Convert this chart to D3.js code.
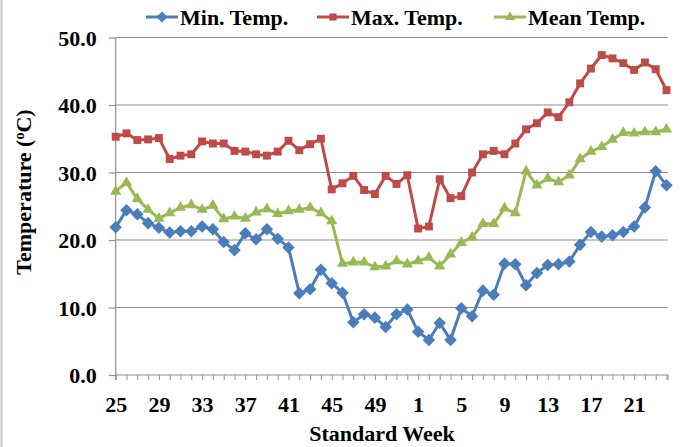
<!DOCTYPE html>
<html>
<head>
<meta charset="utf-8">
<script src="https://cdn.jsdelivr.net/npm/d3@7/dist/d3.min.js"></script>
<style>
  html, body { margin: 0; padding: 0; background: #fff; }
  svg { display: block; }
  text { font-family: "Liberation Serif", "Times New Roman", serif; font-weight: bold; fill: #000; }
</style>
</head>
<body>
<svg id="chart" width="681" height="447"></svg>
<script>
// Standard meteorological weeks (25 to 52, then 1 to 24)
const weeks = [25,26,27,28,29,30,31,32,33,34,35,36,37,38,39,40,41,42,43,44,45,46,47,48,49,50,51,52,
               1,2,3,4,5,6,7,8,9,10,11,12,13,14,15,16,17,18,19,20,21,22,23,24];
const weekLabels = [25,29,33,37,41,45,49,1,5,9,13,17,21];

// Weekly temperatures (°C)
const minTemp = [21.9,24.4,23.8,22.5,21.8,21.1,21.3,21.3,22.0,21.6,19.7,18.5,21.0,20.1,21.6,20.2,18.9,
                 12.1,12.7,15.6,13.6,12.2,7.8,9.0,8.5,7.1,9.0,9.7,6.4,5.2,7.7,5.2,9.9,8.7,
                 12.5,11.9,16.5,16.4,13.3,15.1,16.3,16.4,16.8,19.3,21.2,20.5,20.7,21.2,22.0,24.8,30.2,28.1];
const maxTemp = [35.3,35.8,34.8,34.9,35.1,32.0,32.5,32.7,34.6,34.3,34.3,33.2,33.1,32.7,32.5,33.1,34.7,
                 33.3,34.2,35.0,27.5,28.4,29.5,27.4,26.8,29.5,28.3,29.6,21.7,22.0,29.0,26.2,26.5,30.0,
                 32.7,33.2,32.7,34.3,36.4,37.3,38.9,38.2,40.4,43.2,45.4,47.4,46.9,46.2,45.2,46.3,45.3,42.2];
const meanTemp = [27.2,28.5,26.1,24.5,23.2,24.0,24.8,25.2,24.5,25.1,23.1,23.5,23.2,24.1,24.6,23.9,24.3,
                  24.5,24.8,24.0,22.8,16.5,16.7,16.7,16.0,16.1,16.9,16.4,16.9,17.4,16.1,17.9,19.6,20.4,
                  22.4,22.4,24.7,24.0,30.2,28.1,29.1,28.6,29.6,32.0,33.1,33.8,34.9,35.9,35.8,36.0,36.0,36.4];
const yTicks = [0,10,20,30,40,50];

const series = [
  { name: "Min. Temp.",  values: minTemp,  color: "#4A7EBB", marker: d3.symbolDiamond2, size: 100 },
  { name: "Max. Temp.",  values: maxTemp,  color: "#BE4B48", marker: d3.symbolSquare2,  size: 80 },
  { name: "Mean Temp.",  values: meanTemp, color: "#98B954", marker: d3.symbolTriangle2, size: 90 }
];

const svg = d3.select("#chart");
const plotL = 115.7, plotR = 666.5, plotT = 37.5, plotB = 375;
const axisEnd = 668;
const gridColor = "#8e8e8e";
const fontSize = "22px";

const x = d3.scalePoint().domain(d3.range(weeks.length)).range([plotL, plotR]);
const y = d3.scaleLinear().domain([0, 50]).range([plotB, plotT]);

// faint edge line on the left of the frame
svg.append("line").attr("x1", 1.5).attr("x2", 1.5).attr("y1", 0).attr("y2", 447)
  .attr("stroke", "#c4c4c4").attr("stroke-width", 2);

// horizontal gridlines
svg.append("g").selectAll("line").data(yTicks.filter(t => t > 0)).join("line")
  .attr("x1", plotL).attr("x2", axisEnd)
  .attr("y1", d => y(d)).attr("y2", d => y(d))
  .attr("stroke", gridColor).attr("stroke-width", 1.2);

// y axis
const yAxis = svg.append("g").attr("transform", `translate(${plotL},0)`)
  .call(d3.axisLeft(y).tickValues(yTicks).tickFormat(d3.format(".1f")).tickSize(7).tickPadding(12));
yAxis.select(".domain").attr("stroke", gridColor).attr("stroke-width", 1.2)
  .attr("d", `M0,${plotT}V${plotB + 5}`);
yAxis.selectAll(".tick line").attr("stroke", gridColor).attr("stroke-width", 1.2);
yAxis.selectAll(".tick text").style("font-size", fontSize).attr("dy", "0.35em");

// x axis: tick at every week, label every fourth
const xAxis = svg.append("g").attr("transform", `translate(0,${plotB})`)
  .call(d3.axisBottom(x).tickSize(5).tickPadding(16)
    .tickFormat(i => (weekLabels.includes(weeks[i]) ? weeks[i] : "")));
xAxis.select(".domain").attr("stroke", gridColor).attr("stroke-width", 1.2)
  .attr("d", `M${plotL},0H${axisEnd}`);
xAxis.selectAll(".tick line").attr("stroke", gridColor).attr("stroke-width", 1);
xAxis.selectAll(".tick text").style("font-size", fontSize);
xAxis.append("line").attr("x1", axisEnd).attr("x2", axisEnd).attr("y1", 0).attr("y2", 5)
  .attr("stroke", gridColor);

// series lines and markers
const line = d3.line().x((d, i) => x(i)).y(d => y(d));
series.forEach(s => {
  const g = svg.append("g");
  g.append("path").datum(s.values).attr("d", line)
    .attr("fill", "none").attr("stroke", s.color).attr("stroke-width", 3).attr("stroke-linejoin", "round");
  g.selectAll("path.m").data(s.values).join("path").attr("class", "m")
    .attr("transform", (d, i) => `translate(${x(i)},${y(d)})`)
    .attr("d", d3.symbol().type(s.marker).size(s.size))
    .attr("fill", s.color);
});

// axis titles
svg.append("text").attr("x", 382).attr("y", 441).attr("text-anchor", "middle")
  .style("font-size", fontSize).text("Standard Week");
const yt = svg.append("text").attr("transform", "translate(31,192) rotate(-90)")
  .attr("text-anchor", "middle").style("font-size", fontSize);
yt.append("tspan").text("Temperature (");
yt.append("tspan").attr("baseline-shift", "super").style("font-size", "14px").text("o");
yt.append("tspan").text("C)");

// legend
const legendX = [146, 317, 494];
series.forEach((s, k) => {
  const g = svg.append("g").attr("transform", `translate(${legendX[k]},17)`);
  g.append("line").attr("x1", 0).attr("x2", 32).attr("stroke", s.color).attr("stroke-width", 3);
  g.append("path").attr("transform", "translate(16,0)")
    .attr("d", d3.symbol().type(s.marker).size(s.size * 0.8)).attr("fill", s.color);
  g.append("text").attr("x", 34).attr("dy", "0.35em").style("font-size", fontSize).text(s.name);
});
</script>
</body>
</html>
